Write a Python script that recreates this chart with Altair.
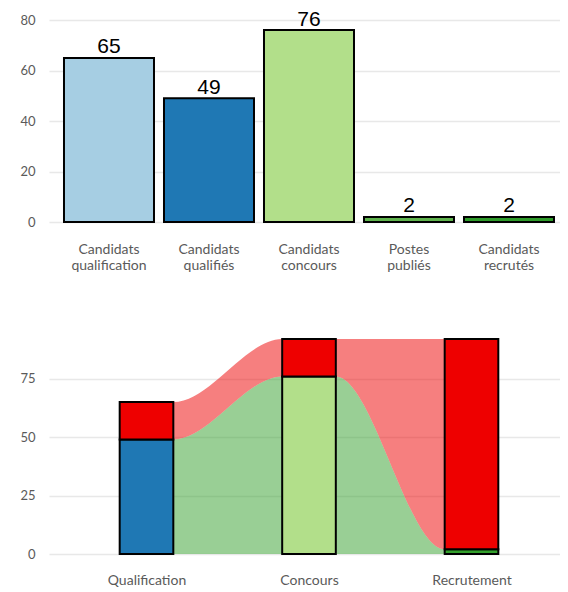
import altair as alt
import pandas as pd

# ---- data: top bar chart ----
categories = ["Candidats qualification", "Candidats qualifiés", "Candidats concours",
              "Postes publiés", "Candidats recrutés"]
counts = [65, 49, 76, 2, 2]
bar_colors = ["#a6cee3", "#1f78b4", "#b2df8a", "#5fb34d", "#2e9b2a"]
top_y_ticks = [0, 10, 20, 30, 40, 50, 60, 70, 80]

# ---- data: bottom flow chart ----
stages = ["Qualification", "Concours", "Recrutement"]
stage_ok = [49, 76, 2]
stage_ko = [16, 16, 90]
stage_ok_colors = ["#1f78b4", "#b2df8a", "#33a02c"]
ko_color = "#ee0000"
flow_ok_color = "#33a02c"
flow_ko_color = "#ee0000"
bottom_y_ticks = [0, 12.5, 25, 37.5, 50, 62.5, 75, 87.5]

HALF = 0.165  # half bar width in stage units
LABEL_FONT = "Lato"
LABEL_COLOR = "#5a5a5a"
W = 511

grid_w = {"condition": {"test": "datum.value % 20 === 0", "value": 1.6}, "value": 0.9}
grid_c = {"condition": {"test": "datum.value % 20 === 0", "value": "#e8e8e8"}, "value": "#efefef"}

# ---------------- top chart ----------------
df_top = pd.DataFrame({"cat": categories, "n": counts, "color": bar_colors})
x_top = alt.X("cat:N", sort=categories,
              scale=alt.Scale(paddingInner=0.1, paddingOuter=0.105, align=0.714),
              axis=alt.Axis(title=None, labelAngle=0, labelExpr="split(datum.label, ' ')",
                            labelFontSize=14, labelLineHeight=16, labelPadding=20,
                            ticks=False, tickSize=0, domain=False, grid=False,
                            minExtent=50, maxExtent=50))
y_top = alt.Y("n:Q", scale=alt.Scale(domain=[0, 80], nice=False),
              axis=alt.Axis(title=None, values=top_y_ticks,
                            labelExpr="datum.value % 20 === 0 ? datum.label : ''",
                            labelFontSize=13, labelPadding=14, ticks=False, tickSize=0,
                            domain=False, gridWidth=grid_w, gridColor=grid_c,
                            minExtent=41, maxExtent=41))
bars_top = alt.Chart(df_top).mark_bar(stroke="black", strokeWidth=2).encode(
    x=x_top, y=y_top, fill=alt.Fill("color:N", scale=None))
text_top = alt.Chart(df_top).mark_text(font="Liberation Sans", fontSize=21, color="black",
                                       baseline="alphabetic", dy=-4.5).encode(
    x=alt.X("cat:N", sort=categories), y=alt.Y("n:Q"), text="n:Q")
top = alt.layer(bars_top, text_top).properties(width=W, height=202)

# ---------------- bottom chart ----------------
ok_rows, ko_rows = [], []
for i, (ok, ko) in enumerate(zip(stage_ok, stage_ko)):
    for xx in (i + 1 - HALF, i + 1 + HALF):
        ok_rows.append({"x": xx, "lo": 0, "hi": ok})
        ko_rows.append({"x": xx, "lo": ok, "hi": ok + ko})
df_ok = pd.DataFrame(ok_rows)
df_ko = pd.DataFrame(ko_rows)

rect_rows = []
for i, (ok, ko) in enumerate(zip(stage_ok, stage_ko)):
    rect_rows.append({"x": i + 1 - HALF, "x2": i + 1 + HALF, "lo": 0, "hi": ok,
                      "color": stage_ok_colors[i]})
    rect_rows.append({"x": i + 1 - HALF, "x2": i + 1 + HALF, "lo": ok, "hi": ok + ko,
                      "color": ko_color})
df_rect = pd.DataFrame(rect_rows)

label_expr = "['" + "','".join(stages) + "'][datum.value - 1]"
x_max = 0.4 + W / 162.5
x_bot = alt.X("x:Q", scale=alt.Scale(domain=[0.4, x_max], nice=False, zero=False),
              axis=alt.Axis(title=None, values=[1, 2, 3], labelExpr=label_expr,
                            labelFontSize=14, labelPadding=19, ticks=False, tickSize=0,
                            domain=False, grid=False))
y_bot = alt.Y("lo:Q", scale=alt.Scale(domain=[0, 92], nice=False),
              axis=alt.Axis(title=None, values=bottom_y_ticks,
                            labelExpr="datum.value % 25 === 0 ? datum.label : ''",
                            labelFontSize=13, labelPadding=14, ticks=False, tickSize=0,
                            domain=False,
                            gridWidth={"condition": {"test": "datum.value % 25 === 0", "value": 1.6}, "value": 0.9},
                            gridColor={"condition": {"test": "datum.value % 25 === 0", "value": "#e8e8e8"}, "value": "#efefef"},
                            minExtent=41, maxExtent=41))

area_ok = alt.Chart(df_ok).mark_area(
    interpolate="monotone", color=flow_ok_color, fillOpacity=0.5, orient="vertical").encode(
    x=x_bot, y=y_bot, y2=alt.Y2("hi"))
area_ko = alt.Chart(df_ko).mark_area(
    interpolate="monotone", color=flow_ko_color, fillOpacity=0.5, orient="vertical").encode(
    x=alt.X("x:Q"), y=alt.Y("lo:Q"), y2=alt.Y2("hi"))
rects = alt.Chart(df_rect).mark_rect(stroke="black", strokeWidth=2).encode(
    x=alt.X("x:Q"), x2="x2:Q", y=alt.Y("lo:Q"), y2="hi:Q",
    fill=alt.Fill("color:N", scale=None))
bottom = alt.layer(area_ok, area_ko, rects).properties(width=W, height=215)

chart = alt.vconcat(top, bottom, spacing=66).properties(
    padding={"left": 0, "top": 0, "right": 0, "bottom": 0}
).configure_view(stroke=None).configure_axis(
    labelFont=LABEL_FONT, labelColor=LABEL_COLOR
)

chart.save("out.html", embed_options={"renderer": "svg", "actions": False})
